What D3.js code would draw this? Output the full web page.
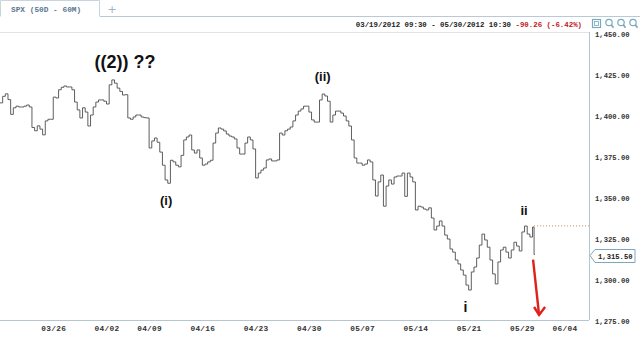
<!DOCTYPE html>
<html>
<head>
<meta charset="utf-8">
<script src="https://cdn.jsdelivr.net/npm/d3@7"></script>
<style>
body{margin:0;background:#fff;}
svg{display:block;}
.mono{font-family:"Liberation Mono","DejaVu Sans Mono",monospace;font-weight:bold;}
.note{font-family:"Liberation Sans",Arial,sans-serif;font-weight:bold;fill:#111;}
</style>
</head>
<body>
<script>
// trading days shown on the chart (index = position on the time axis)
var days = ["03/19","03/20","03/21","03/22","03/23","03/26","03/27","03/28","03/29","03/30",
            "04/02","04/03","04/04","04/05","04/09","04/10","04/11","04/12","04/13",
            "04/16","04/17","04/18","04/19","04/20","04/23","04/24","04/25","04/26","04/27",
            "04/30","05/01","05/02","05/03","05/04","05/07","05/08","05/09","05/10","05/11",
            "05/14","05/15","05/16","05/17","05/18","05/21","05/22","05/23","05/24","05/25",
            "05/29","05/30"];
var futureDays = ["05/31","06/01","06/04"];

// intraday prices, 4 readings per session (last session only 09:30 and 10:30)
var prices = [
  [1408,1412,1413.5,1410],[1401,1405,1406,1405.5],[1405.5,1406,1406.7,1405.5],[1393,1391,1394,1392],
  [1388.5,1397,1398,1398],[1411.5,1411,1416,1417.5],[1418.3,1417.7,1417.7,1416],[1408.5,1403.7,1398.8,1405],
  [1402.4,1393.9,1400.6,1405.5],[1408.5,1409.8,1409.8,1409],[1407.3,1419,1422,1420],[1417,1415,1412.8,1413],
  [1398.8,1398,1399.4,1400.6],[1400.6,1399.4,1399,1398.8],[1380.5,1384.8,1386.6,1384],[1378,1370,1361,1359],
  [1373,1372,1370,1369],[1376,1385.4,1387.2,1388.4],[1379.3,1377.4,1379.3,1374.4],[1370,1370.7,1372,1373],
  [1383.5,1389.6,1392.7,1392],[1390.9,1389,1387.8,1387.2],[1386,1380.5,1376.8,1376.8],[1383.5,1387.2,1385.4,1379.9],
  [1362.2,1365.2,1367,1368.3],[1373.2,1373.8,1372.6,1372.6],[1373.2,1389.6,1388.4,1391],[1392,1393.3,1397,1400.6],
  [1403,1404.3,1406,1406],[1402.4,1397.6,1396.3,1396.3],[1409.8,1413.4,1412.2,1409],[1396.3,1400.6,1403,1403],
  [1401.8,1400,1397,1393.9],[1385.4,1374.4,1371.3,1371.3],[1370,1370.7,1373.2,1372],[1361,1351.2,1359.8,1364],
  [1345,1357.3,1361,1358.5],[1362.8,1363.4,1363.4,1365.2],[1351,1365.2,1362.8,1359.8],[1342.7,1345,1344.5,1343.3],
  [1342.7,1344,1337.8,1330.5],[1332.9,1336,1332.9,1327.4],[1325,1318.9,1317,1312.2],[1309.8,1306.1,1303,1296.9],
  [1293.9,1304.9,1307.9,1313.4],[1321.3,1328,1324.4,1320],[1312.2,1303.7,1297.6,1311],[1318.3,1320,1317,1313.4],
  [1318.3,1323,1320.7,1317.7],[1329.3,1332.9,1328,1326.2],[1332.3,1315.5]
];
var slotFrac = [0,0.25,0.5,0.75];
var lastFrac = [0,1/7];

var prevClose = 1333;
var lastPrice = 1315.5;
var yTicks = [1275,1300,1325,1350,1375,1400,1425,1450];
var xTickLabels = ["03/26","04/02","04/09","04/16","04/23","04/30","05/07","05/14","05/21","05/29","06/04"];
var rangeText = "03/19/2012 09:30 - 05/30/2012 10:30";
var changeText = "-90.26 (-6.42%)";

var width = 640, height = 344;
var plot = {left:0, right:589, top:32, bottom:320};

var svg = d3.select("body").append("svg").attr("width",width).attr("height",height);

var allDays = days.concat(futureDays);
var x = d3.scaleLinear().domain([0,55.3]).range([plot.left,plot.right]);
var y = d3.scaleLinear().domain([1275,1450]).range([321,34]);

// ---- header / tab bar
svg.append("line").attr("x1",100).attr("x2",640).attr("y1",16.5).attr("y2",16.5).attr("stroke","#b9c9d6");
svg.append("path").attr("d","M0.5,16.5 V0.5 H99.5 V16.5").attr("fill","#fff").attr("stroke","#c9d5de");
svg.append("text").attr("class","mono").attr("x",11).attr("y",12)
   .attr("font-size","7.8px").attr("fill","#5d7590").text("SPX (50D - 60M)");
svg.append("text").attr("x",112).attr("y",13).attr("text-anchor","middle")
   .attr("font-family","DejaVu Sans").attr("font-size","11px").attr("fill","#9fb3c2").text("+");

var hdr = svg.append("text").attr("class","mono").attr("x",582).attr("y",27)
   .attr("text-anchor","end").attr("font-size","7.4px");
hdr.append("tspan").attr("fill","#222").text(rangeText + "  ");
hdr.append("tspan").attr("fill","#c0161c").text(changeText);

// toolbar icons
var icons = svg.append("g").attr("stroke","#79a9bf").attr("fill","none").attr("stroke-width",1.2);
icons.append("rect").attr("x",592.5).attr("y",19.5).attr("width",8).attr("height",8);
icons.append("rect").attr("x",594.5).attr("y",21.5).attr("width",4).attr("height",4).attr("stroke-width",0.8);
[609,621,633].forEach(function(cx){
  icons.append("circle").attr("cx",cx).attr("cy",22.5).attr("r",3.2);
  icons.append("line").attr("x1",cx+2.3).attr("y1",24.8).attr("x2",cx+4.5).attr("y2",27.8).attr("stroke-width",1.7);
});

// ---- plot frame
svg.append("line").attr("x1",0).attr("x2",plot.right).attr("y1",plot.top+0.5).attr("y2",plot.top+0.5).attr("stroke","#dfe4e8");
svg.append("line").attr("x1",plot.right+0.5).attr("x2",plot.right+0.5).attr("y1",plot.top).attr("y2",plot.bottom).attr("stroke","#b3c7d3");
svg.append("line").attr("x1",0).attr("x2",plot.right).attr("y1",plot.bottom+0.5).attr("y2",plot.bottom+0.5).attr("stroke","#b3c7d3");

// ---- axes
var yAxis = d3.axisRight(y).tickValues(yTicks).tickSize(0).tickPadding(0).tickFormat(d3.format(",.2f"));
var gy = svg.append("g").attr("transform","translate(595,0)").call(yAxis);
gy.select(".domain").remove();
gy.selectAll("text").attr("class","mono").attr("font-size","7.2px").attr("fill","#333");

var xAxis = d3.axisBottom(x)
   .tickValues(xTickLabels.map(function(l){return allDays.indexOf(l);}))
   .tickSize(0).tickPadding(5)
   .tickFormat(function(d){return allDays[d];});
var gx = svg.append("g").attr("transform","translate(0,"+plot.bottom+")").call(xAxis);
gx.select(".domain").remove();
gx.selectAll("text").attr("class","mono").attr("font-size","7.8px").attr("fill","#333").attr("letter-spacing","0.3px");

// ---- price series
var pts = [];
prices.forEach(function(dayVals,i){
  var fr = (i == prices.length-1) ? lastFrac : slotFrac;
  dayVals.forEach(function(p,j){ pts.push({t:i+fr[j], p:p}); });
});
var lastT = pts[pts.length-1].t;
pts.push({t:lastT+0.08, p:pts[pts.length-1].p});

var line = d3.line().curve(d3.curveStepAfter)
   .x(function(d){return x(d.t);})
   .y(function(d){return y(d.p);});

svg.append("path").datum(pts).attr("d",line)
   .attr("fill","none").attr("stroke","#4d4d4d").attr("stroke-width",0.9);

// previous close dotted line
svg.append("line").attr("x1",x(lastT)).attr("x2",plot.right)
   .attr("y1",y(prevClose)).attr("y2",y(prevClose))
   .attr("stroke","#c98a5e").attr("stroke-dasharray","1,2");

// last price tag
var ly = Math.round(y(lastPrice))+0.5;
svg.append("path")
   .attr("d","M"+(plot.right+1)+","+ly+" L595,"+(ly-6)+" H635 V"+(ly+7)+" H595 Z")
   .attr("fill","#fff").attr("stroke","#7fa8c0");
svg.append("text").attr("class","mono").attr("x",598).attr("y",ly+3)
   .attr("font-size","7.2px").attr("fill","#222").text(d3.format(",.2f")(lastPrice));

// ---- wave annotations
svg.append("text").attr("class","note").attr("x",125).attr("y",68).attr("text-anchor","middle").attr("font-size","18px").text("((2)) ??");
svg.append("text").attr("class","note").attr("x",x(30.3)).attr("y",81).attr("text-anchor","middle").attr("font-size","13px").text("(ii)");
svg.append("text").attr("class","note").attr("x",x(15.6)).attr("y",205).attr("text-anchor","middle").attr("font-size","13px").text("(i)");
svg.append("text").attr("class","note").attr("x",x(49.2)).attr("y",215).attr("text-anchor","middle").attr("font-size","13px").text("ii");
svg.append("text").attr("class","note").attr("x",x(43.7)).attr("y",312).attr("text-anchor","middle")
   .attr("font-size","14px").attr("font-weight","normal").text("i");

// red arrow
var ax = x(lastT);
svg.append("line").attr("x1",ax-1).attr("y1",y(lastPrice)+5).attr("x2",ax+5).attr("y2",315)
   .attr("stroke","#e0211b").attr("stroke-width",2.4);
svg.append("path").attr("d","M"+(ax)+",307 L"+(ax+5)+",315 L"+(ax+11)+",307")
   .attr("fill","none").attr("stroke","#e0211b").attr("stroke-width",2.4);
</script>
</body>
</html>
